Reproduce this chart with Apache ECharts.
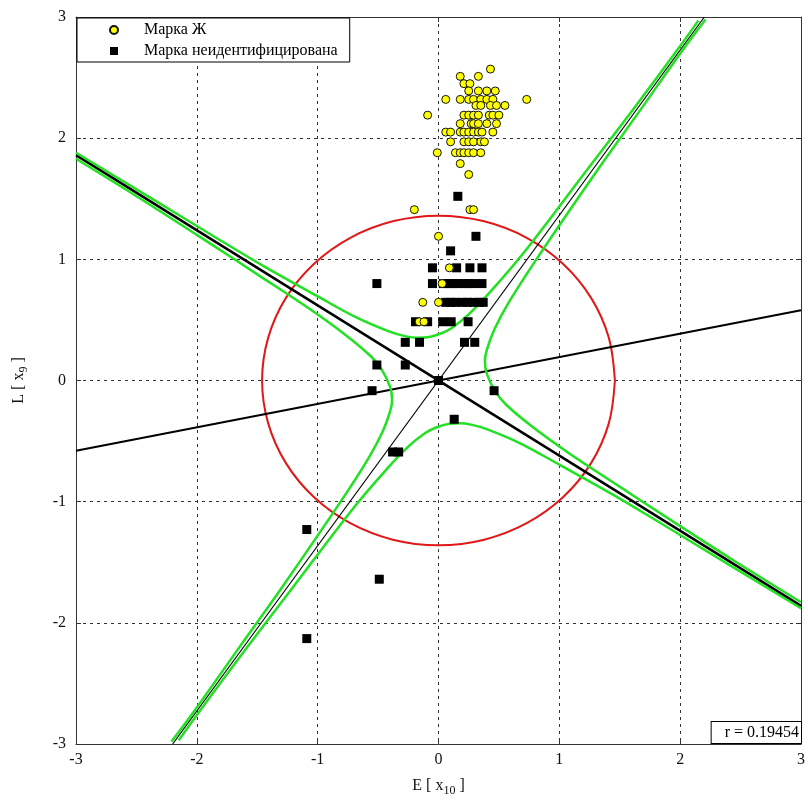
<!DOCTYPE html>
<html>
<head>
    <meta charset="utf-8">
    <title>Марка Ж</title>
    <style>
        body { margin: 0; padding: 0; background: #fff; }
        #chart { width: 808px; height: 807px; }
    </style>
</head>
<body>
    <div id="chart"></div>
    <script src="https://cdn.jsdelivr.net/npm/echarts@6/dist/echarts.min.js"></script>
    <script>
        // points, [E, L]
        const markZh = [
            [0.43, 2.57], [0.18, 2.51], [0.33, 2.51], [0.21, 2.45], [0.26, 2.45],
            [0.25, 2.39], [0.33, 2.39], [0.40, 2.39], [0.47, 2.39],
            [0.06, 2.32], [0.18, 2.32], [0.25, 2.32], [0.29, 2.32], [0.35, 2.32], [0.40, 2.32], [0.45, 2.32], [0.73, 2.32],
            [0.31, 2.27], [0.35, 2.27], [0.43, 2.27], [0.48, 2.27], [0.55, 2.27],
            [-0.09, 2.19], [0.21, 2.19], [0.25, 2.19], [0.29, 2.19], [0.33, 2.19], [0.42, 2.19], [0.45, 2.19], [0.50, 2.19],
            [0.18, 2.12], [0.27, 2.12], [0.29, 2.12], [0.33, 2.12], [0.40, 2.12], [0.48, 2.12],
            [0.06, 2.05], [0.10, 2.05], [0.18, 2.05], [0.21, 2.05], [0.25, 2.05], [0.29, 2.05], [0.33, 2.05], [0.36, 2.05], [0.45, 2.05],
            [0.10, 1.97], [0.21, 1.97], [0.25, 1.97], [0.29, 1.97], [0.35, 1.97], [0.38, 1.97],
            [-0.01, 1.88], [0.14, 1.88], [0.18, 1.88], [0.21, 1.88], [0.25, 1.88], [0.29, 1.88], [0.35, 1.88],
            [0.18, 1.79], [0.25, 1.70],
            [-0.20, 1.41], [0.26, 1.41], [0.29, 1.41], [0.0, 1.19],
            [0.09, 0.93], [0.03, 0.80], [-0.13, 0.645], [0.0, 0.645], [-0.16, 0.485], [-0.12, 0.485]
        ];

        const markUnknown = [
            [0.16, 1.52], [0.31, 1.19], [0.10, 1.07],
            [-0.05, 0.93], [0.15, 0.93], [0.26, 0.93], [0.36, 0.93],
            [-0.51, 0.80], [-0.05, 0.80], [0.04, 0.80], [0.08, 0.80], [0.12, 0.80], [0.16, 0.80], [0.21, 0.80], [0.25, 0.80], [0.29, 0.80], [0.36, 0.80],
            [0.06, 0.645], [0.10, 0.645], [0.14, 0.645], [0.20, 0.645], [0.24, 0.645], [0.29, 0.645], [0.34, 0.645], [0.37, 0.645],
            [-0.19, 0.485], [-0.09, 0.485], [0.035, 0.485], [0.105, 0.485], [0.245, 0.485],
            [-0.275, 0.315], [-0.157, 0.315], [0.215, 0.315], [0.30, 0.315],
            [-0.51, 0.128], [-0.275, 0.128],
            [-0.55, -0.084], [0.46, -0.084],
            [0.0, 0.0], [0.13, -0.32],
            [-0.38, -0.59], [-0.33, -0.59],
            [-1.09, -1.23], [-0.49, -1.64], [-1.09, -2.13]
        ];

        // straight lines through the origin
        const lineR = [[-3, -0.58], [3, 0.58]];
        const lineB = [[-3, 1.86], [3, -1.86]];
        const lineC = [[-2.2, -3], [2.2, 3]];

        // green curves
        const greenUpper = [
            [-3.0, 1.88], [-2.42, 1.53], [-1.81, 1.16], [-1.44, 0.94], [-1.01, 0.70], [-0.68, 0.52],
            [-0.41, 0.405], [-0.27, 0.364], [-0.17, 0.353], [-0.09, 0.357], [0.02, 0.388], [0.11, 0.434],
            [0.25, 0.546], [0.43, 0.733], [0.71, 1.06], [1.23, 1.74], [1.59, 2.21], [2.0, 2.76], [2.15, 2.97]
        ];
        const greenLower = [
            [-2.15, -2.97], [-2.0, -2.76], [-1.59, -2.21], [-1.23, -1.74], [-0.71, -1.06], [-0.43, -0.733],
            [-0.25, -0.546], [-0.11, -0.434], [-0.02, -0.388], [0.09, -0.357], [0.17, -0.353], [0.27, -0.364],
            [0.41, -0.405], [0.68, -0.52], [1.01, -0.70], [1.44, -0.94], [1.81, -1.16], [2.42, -1.53], [3.0, -1.88]
        ];
        const greenRight = [
            [3.0, -1.83], [2.45, -1.49], [1.85, -1.105], [1.49, -0.87], [1.08, -0.60], [0.78, -0.384],
            [0.56, -0.20], [0.47, -0.09], [0.40, 0.055], [0.384, 0.162], [0.40, 0.253], [0.46, 0.417],
            [0.58, 0.642], [0.81, 1.0], [1.29, 1.70], [1.64, 2.19], [2.03, 2.74], [2.21, 2.98]
        ];
        const greenLeft = [
            [-3.0, 1.83], [-2.45, 1.49], [-1.85, 1.105], [-1.49, 0.87], [-1.08, 0.60], [-0.78, 0.384],
            [-0.56, 0.20], [-0.47, 0.09], [-0.40, -0.055], [-0.384, -0.162], [-0.40, -0.253], [-0.46, -0.417],
            [-0.58, -0.642], [-0.81, -1.0], [-1.29, -1.70], [-1.64, -2.19], [-2.03, -2.74], [-2.21, -2.98]
        ];

        // red ring
        const redRing = [
            [1.46, 0], [1.41, 0.352], [1.264, 0.68], [1.032, 0.962], [0.73, 1.178], [0.378, 1.314],
            [0, 1.36], [-0.378, 1.314], [-0.73, 1.178], [-1.032, 0.962], [-1.264, 0.68], [-1.41, 0.352],
            [-1.46, 0], [-1.41, -0.352], [-1.264, -0.68], [-1.032, -0.962], [-0.73, -1.178], [-0.378, -1.314],
            [0, -1.36], [0.378, -1.314], [0.73, -1.178], [1.032, -0.962], [1.264, -0.68], [1.41, -0.352], [1.46, 0]
        ];

        const corrText = 'r = 0.19454';

        const serif = '"Liberation Serif", "DejaVu Serif", serif';
        const green = '#22e022';
        const squareIcon = 'path://M0,0L10,0L10,10L0,10Z';

        var chart = echarts.init(document.getElementById('chart'));

        function curve(data, color, width, z) {
            return {
                type: 'line',
                data: data,
                symbol: 'none',
                smooth: 0.35,
                silent: true,
                lineStyle: { color: color, width: width },
                z: z
            };
        }
        function straight(data, width, z) {
            return {
                type: 'line',
                data: data,
                symbol: 'none',
                silent: true,
                lineStyle: { color: '#000', width: width },
                z: z
            };
        }

        var gridLine = { show: true, lineStyle: { color: '#333', type: [3, 4], width: 1 } };
        var frameLine = { show: true, onZero: false, lineStyle: { color: '#333', width: 1 } };
        var tick = { show: true, inside: true, length: 5, lineStyle: { color: '#333' } };
        var tickLabel = { color: '#111', fontFamily: serif, fontSize: 16 };

        var option = {
            animation: false,
            backgroundColor: '#fff',
            grid: { left: 76, right: 6, top: 17, bottom: 63 },
            legend: {
                data: [
                    { name: 'Марка Ж', icon: 'circle' },
                    { name: 'Марка неидентифицирована', icon: squareIcon }
                ],
                orient: 'vertical',
                left: 77,
                top: 18,
                padding: [4, 12, 3, 32],
                itemWidth: 50,
                itemHeight: 8,
                itemGap: 5,
                symbolKeepAspect: true,
                backgroundColor: '#fff',
                borderColor: '#000',
                borderWidth: 1,
                textStyle: { fontFamily: serif, fontSize: 16, color: '#000' },
                selectedMode: false
            },
            xAxis: [
                {
                    type: 'value', min: -3, max: 3, interval: 1,
                    axisLine: frameLine, axisTick: tick, splitLine: gridLine,
                    axisLabel: Object.assign({ margin: 8 }, tickLabel),
                    name: '{t|E [ x}{s|10}{t| ]}',
                    nameLocation: 'middle',
                    nameGap: 31,
                    nameTextStyle: {
                        rich: {
                            t: { fontFamily: serif, fontSize: 16, color: '#111' },
                            s: { fontFamily: serif, fontSize: 12, color: '#111', padding: [10, 0, 0, 0] }
                        }
                    }
                },
                {
                    type: 'value', min: -3, max: 3, interval: 1, position: 'top',
                    axisLine: frameLine, axisTick: tick, splitLine: { show: false },
                    axisLabel: { show: false }
                }
            ],
            yAxis: [
                {
                    type: 'value', min: -3, max: 3, interval: 1,
                    axisLine: frameLine, axisTick: tick, splitLine: gridLine,
                    axisLabel: Object.assign({ margin: 10 }, tickLabel),
                    name: '{t|L [ x}{s|9}{t| ]}',
                    nameLocation: 'middle',
                    nameGap: 46,
                    nameTextStyle: {
                        rich: {
                            t: { fontFamily: serif, fontSize: 16, color: '#111' },
                            s: { fontFamily: serif, fontSize: 12, color: '#111', padding: [10, 0, 0, 0] }
                        }
                    }
                },
                {
                    type: 'value', min: -3, max: 3, interval: 1, position: 'right',
                    axisLine: frameLine, axisTick: tick, splitLine: { show: false },
                    axisLabel: { show: false }
                }
            ],
            graphic: [
                {
                    type: 'text',
                    right: 6,
                    bottom: 63,
                    z: 100,
                    style: {
                        text: corrText,
                        font: '16px ' + serif,
                        fill: '#000',
                        backgroundColor: '#fff',
                        borderColor: '#000',
                        borderWidth: 1,
                        padding: [3, 2, 2, 13]
                    }
                }
            ],
            series: [
                curve(redRing, '#e01818', 2, 2),
                straight(lineR, 2, 3),
                straight(lineB, 2.5, 3),
                straight(lineC, 1.2, 3),
                curve(greenUpper, green, 2.5, 4),
                curve(greenLower, green, 2.5, 4),
                curve(greenLeft, green, 2.5, 4),
                curve(greenRight, green, 2.5, 4),
                {
                    name: 'Марка неидентифицирована',
                    type: 'scatter',
                    data: markUnknown,
                    symbol: 'rect',
                    symbolSize: 9,
                    itemStyle: { color: '#000', opacity: 1 },
                    z: 5
                },
                {
                    name: 'Марка Ж',
                    type: 'scatter',
                    data: markZh,
                    symbol: 'circle',
                    symbolSize: 8,
                    itemStyle: { color: '#ffff00', borderColor: '#111', borderWidth: 1, opacity: 1 },
                    z: 6
                }
            ]
        };
        chart.setOption(option);
    </script>
</body>
</html>
